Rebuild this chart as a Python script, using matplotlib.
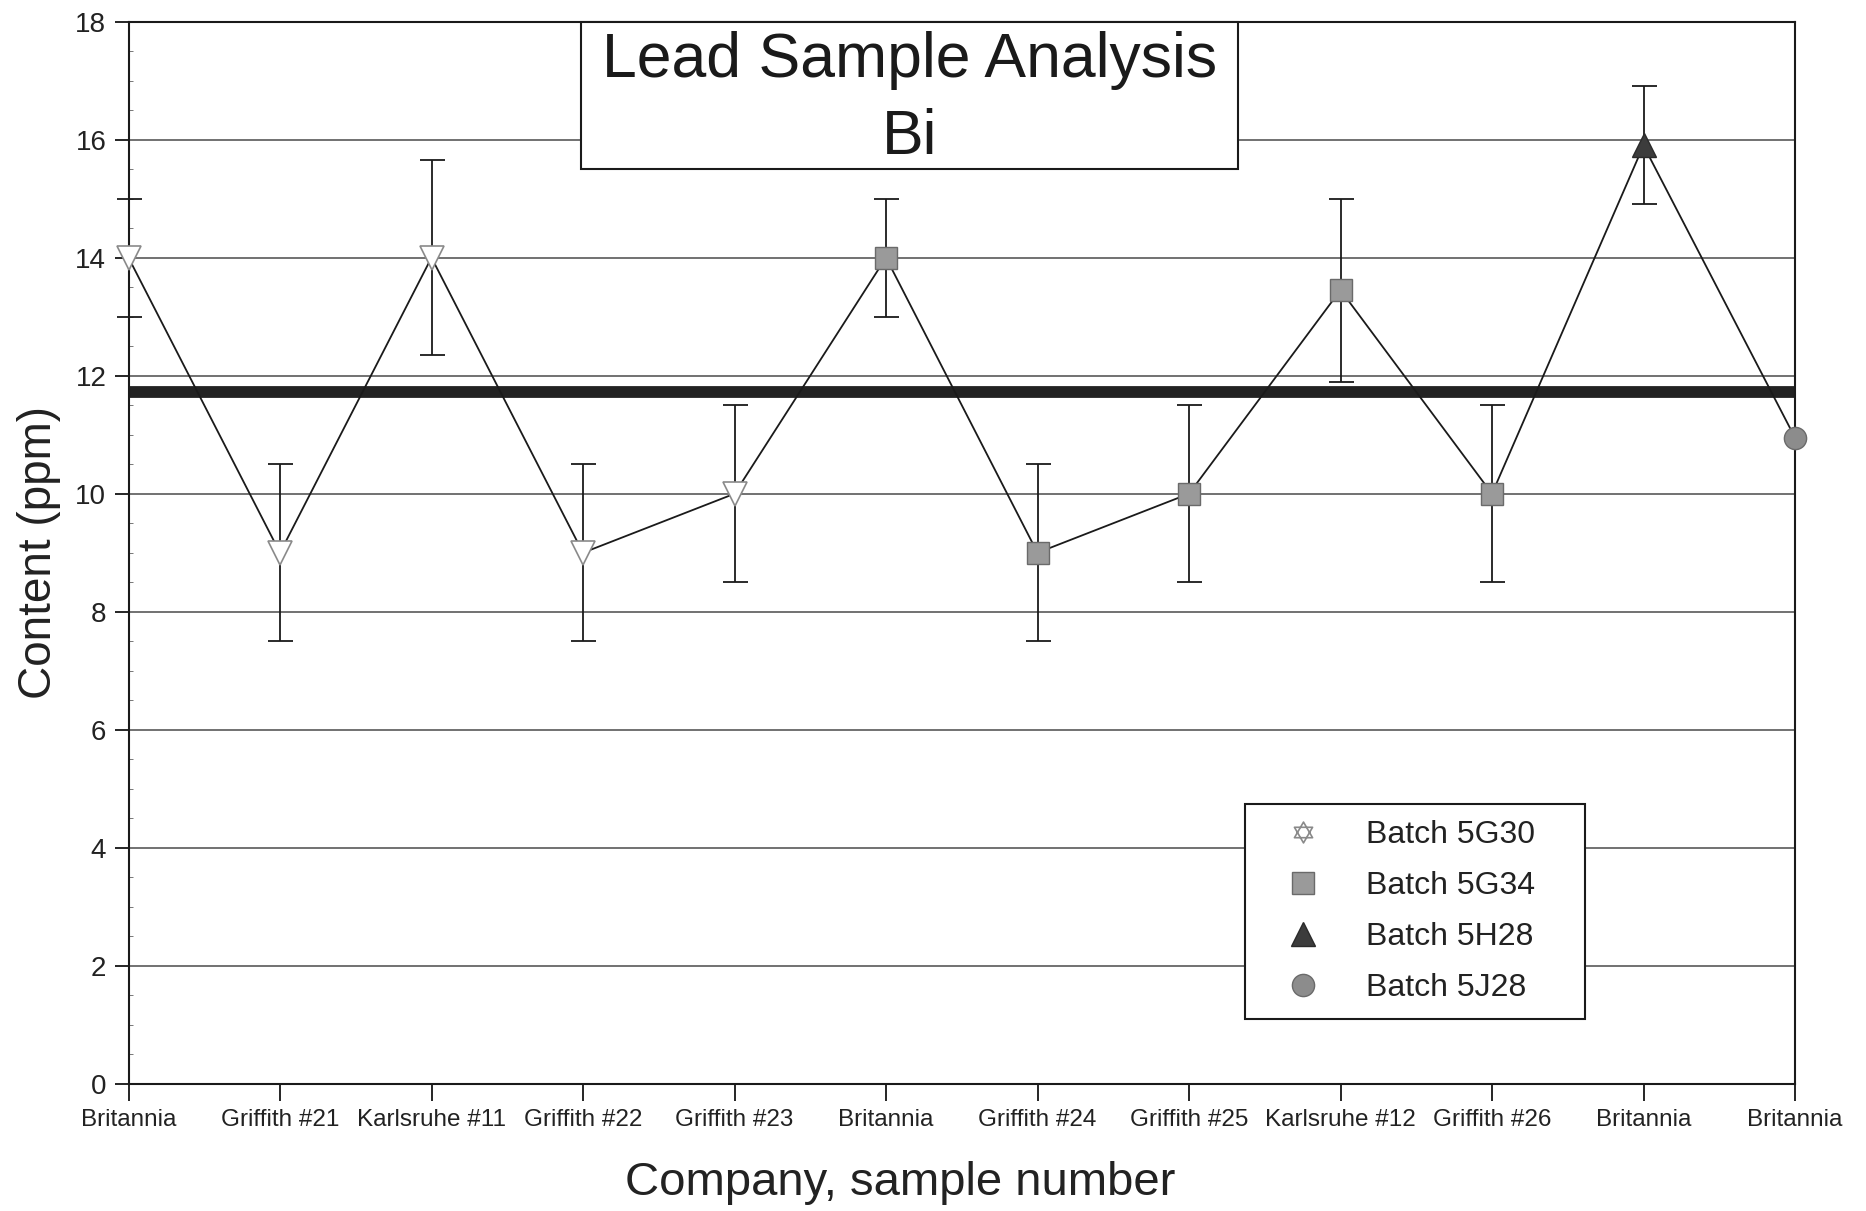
import matplotlib
matplotlib.use("Agg")
import matplotlib.pyplot as plt
from matplotlib.path import Path
from matplotlib.lines import Line2D
from matplotlib.patches import Rectangle

plt.rcParams["font.family"] = "Liberation Sans"

# Sample labels along the x axis
samples = ["Britannia", "Griffith #21", "Karlsruhe #11", "Griffith #22", "Griffith #23",
           "Britannia", "Griffith #24", "Griffith #25", "Karlsruhe #12", "Griffith #26",
           "Britannia", "Britannia"]

# Bi content (ppm) and error (+/-) per sample
content = [14.0, 9.0, 14.0, 9.0, 10.0, 14.0, 9.0, 10.0, 13.45, 10.0, 15.9, 10.95]
error = [1.0, 1.5, 1.65, 1.5, 1.5, 1.0, 1.5, 1.5, 1.55, 1.5, 1.0, 0.0]

# which batch each sample belongs to
batch = ["5G30", "5G30", "5G30", "5G30", "5G30", "5G34", "5G34", "5G34", "5G34", "5G34",
         "5H28", "5J28"]
batch_names = ["5G30", "5G34", "5H28", "5J28"]

mean_content = 11.72

# star-of-david marker for batch 5G30 (legend)
star = Path([(0, -1), (-0.87, 0.5), (0.87, 0.5), (0, -1),
             (0, 1), (-0.87, -0.5), (0.87, -0.5), (0, 1)],
            [Path.MOVETO, Path.LINETO, Path.LINETO, Path.CLOSEPOLY,
             Path.MOVETO, Path.LINETO, Path.LINETO, Path.CLOSEPOLY])

styles = {
    "5G30": dict(marker="v", markerfacecolor="white", markeredgecolor="#8a8a8a", markersize=17, markeredgewidth=1.2),
    "5G34": dict(marker="s", markerfacecolor="#9a9a9a", markeredgecolor="#6a6a6a", markersize=16, markeredgewidth=1),
    "5H28": dict(marker="^", markerfacecolor="#3c3c3c", markeredgecolor="#2a2a2a", markersize=17, markeredgewidth=1),
    "5J28": dict(marker="o", markerfacecolor="#8c8c8c", markeredgecolor="#6a6a6a", markersize=16, markeredgewidth=1),
}

fig = plt.figure(figsize=(18.66, 12.11), dpi=100)
ax = fig.add_axes([128.5 / 1866, 1 - 1084 / 1211, (1795 - 128.5) / 1866, (1084 - 21.5) / 1211])

x = list(range(len(samples)))

ax.set_ylim(0, 18)
ax.set_xlim(0, len(samples) - 1)
ax.set_yticks(range(0, 19, 2))
ax.set_yticks([v / 2 for v in range(0, 37)], minor=True)
ax.yaxis.grid(True, color="#4a4a4a", linewidth=1.1)
ax.set_axisbelow(True)

# mean line
ax.axhline(mean_content, color="#222222", linewidth=8.5, zorder=2)

# connecting line and error bars
ax.plot(x, content, color="#1a1a1a", linewidth=1.3, zorder=3)
ex = [i for i in x if error[i] > 0]
ax.errorbar(ex, [content[i] for i in ex], yerr=[error[i] for i in ex], fmt="none",
            ecolor="#1a1a1a", elinewidth=1.3, capsize=9, capthick=1.3, zorder=3, clip_on=False)

for b in batch_names:
    idx = [i for i in x if batch[i] == b]
    ax.plot(idx, [content[i] for i in idx], linestyle="none", zorder=4, clip_on=False, **styles[b])

ax.set_xticks(x)
ax.set_xticklabels(samples, fontsize=17.5, color="#222222")
ax.tick_params(axis="x", direction="out", length=12, width=1.2, pad=6)
ax.tick_params(axis="y", which="major", direction="out", length=10, width=1.2, labelsize=20,
               labelcolor="#222222", pad=6)
ax.tick_params(axis="y", which="minor", direction="in", length=3, width=0.7, color="#777777")
for s in ax.spines.values():
    s.set_linewidth(1.5)
    s.set_color("#1a1a1a")

ax.set_ylabel("Content (ppm)", fontsize=33, color="#222222", labelpad=10)
fig.text(900 / 1866, 1 - 1183 / 1211, "Company, sample number", fontsize=34,
         color="#222222", ha="center", va="center")

# title box
fig.patches.append(Rectangle((581 / 1866, 1 - 169 / 1211), (1238 - 581) / 1866, (169 - 21.5) / 1211,
                             transform=fig.transFigure, facecolor="white", edgecolor="#1a1a1a",
                             linewidth=1.5, zorder=5))
fig.text(910 / 1866, 1 - 61 / 1211, "Lead Sample Analysis", fontsize=45, color="#1a1a1a",
         ha="center", va="center", zorder=6)
fig.text(910 / 1866, 1 - 137 / 1211, "Bi", fontsize=45, color="#1a1a1a",
         ha="center", va="center", zorder=6)

# legend
handles = []
for b in batch_names:
    st = dict(styles[b])
    if b == "5G30":
        st["marker"] = star
        st["markersize"] = 15
    handles.append(Line2D([], [], linestyle="none", **st))
leg = ax.legend(handles, ["Batch " + b for b in batch_names],
                loc="upper left", bbox_to_anchor=(1245 / 1866, 1 - 1019 / 1211, 340 / 1866, 215 / 1211),
                bbox_transform=fig.transFigure, mode="expand", borderaxespad=0,
                fontsize=23, frameon=True, fancybox=False, framealpha=1,
                edgecolor="#1a1a1a", borderpad=0.5, labelspacing=0.66,
                handlelength=2.6, handletextpad=0.7)
leg.get_frame().set_linewidth(1.5)
for t in leg.get_texts():
    t.set_color("#222222")

fig.savefig("out.png", dpi=100)
